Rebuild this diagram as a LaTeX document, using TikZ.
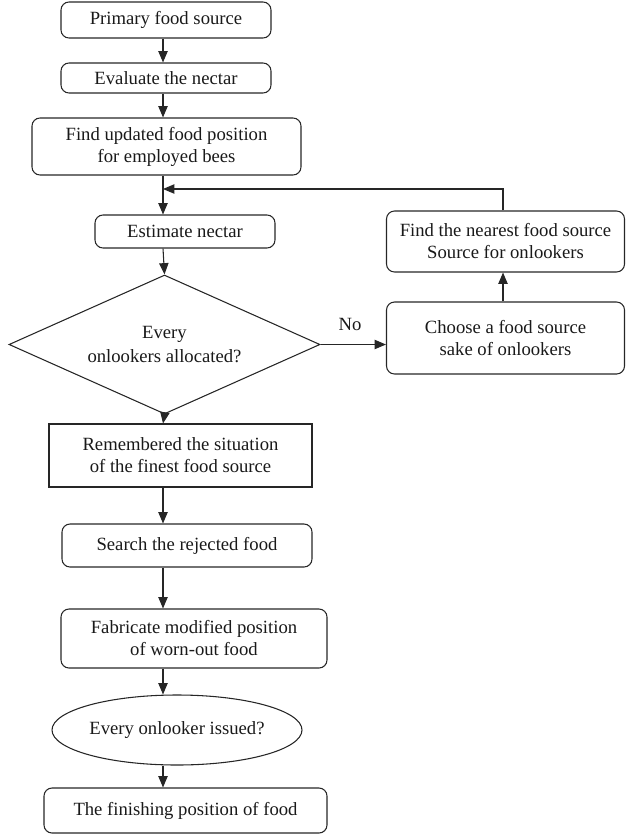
\documentclass[tikz,border=0pt]{standalone}
\usepackage{fontspec}
\setmainfont{Liberation Serif}
\usetikzlibrary{shapes.geometric,arrows.meta}
\begin{document}
\begin{tikzpicture}[x=0.75pt,y=-0.75pt,
  every node/.style={font=\fontsize{14}{16.5}\selectfont, align=center, inner sep=0pt, text=black!90},
  proc/.style={draw=black!85, line width=0.8pt, rectangle, rounded corners=6pt},
  plainbox/.style={draw=black!85, line width=0.8pt, rectangle},
  decision/.style={draw=black!85, line width=0.8pt, diamond, shape aspect=2.2},
  oval/.style={draw=black!85, line width=0.8pt, ellipse},
  flow/.style={draw=black!85, line width=0.8pt, -{Triangle[length=8.5pt,width=7pt]}},
  link/.style={draw=black!85, line width=0.8pt}
]
\useasboundingbox (0,0) rectangle (626,835);

% vertical axis of the main flow and of the side loop
\coordinate (spine) at (163,0);
\coordinate (loopx) at (503,0);
\coordinate (join) at (163,189);

% main column
\node[proc, minimum width=157.5pt, minimum height=27pt] (primary) at (166,20) {Primary food source};
\node[proc, minimum width=157.5pt, minimum height=22.5pt] (evaluate) at (166,78) {Evaluate the nectar};
\node[proc, minimum width=201.75pt, minimum height=42.75pt] (update) at (166.5,146.5) {Find updated food position\\for employed bees};
\node[proc, minimum width=135pt, minimum height=24.75pt] (estimate) at (185,231.5) {Estimate nectar};
\node[decision, minimum width=233.25pt, minimum height=104.25pt] (allocated) at (164.5,344.5) {Every\\[2pt]onlookers allocated?};
\node[plainbox, minimum width=197.25pt, minimum height=47.25pt] (remember) at (180.5,455.5) {Remembered the situation\\of the finest food source};
\node[proc, minimum width=187.5pt, minimum height=32.25pt] (search) at (187,545.5) {Search the rejected food};
\node[proc, minimum width=199.5pt, minimum height=44.25pt] (fabricate) at (194,638.5) {Fabricate modified position\\of worn-out food};
\node[oval, minimum width=187.5pt, minimum height=52.5pt] (issued) at (177,730) {Every onlooker issued?};
\node[proc, minimum width=212.25pt, minimum height=33.75pt] (finish) at (185.5,810.5) {The finishing position of food};

% side loop
\node[proc, minimum width=178.5pt, minimum height=45.75pt] (nearest) at (505.5,241.5) {Find the nearest food source\\Source for onlookers};
\node[proc, minimum width=178.5pt, minimum height=54pt] (choose) at (505.5,338) {Choose a food source\\sake of onlookers};
\node (no) at (350,324) {No};

% connectors of the main column
\draw[flow] (primary.south -| spine) -- (evaluate.north -| spine);
\draw[flow] (evaluate.south -| spine) -- (update.north -| spine);
\draw[flow] (update.south -| spine) -- (estimate.north -| spine);
\draw[flow] (estimate.south -| spine) -- (allocated.north);
\draw[flow] (allocated.south) -- (remember.north -| spine);
\draw[flow] (remember.south -| spine) -- (search.north -| spine);
\draw[flow] (search.south -| spine) -- (fabricate.north -| spine);
\draw[flow] (fabricate.south -| spine) -- (issued.north -| spine);
\draw[flow] (issued.south -| spine) -- (finish.north -| spine);

% connectors of the side loop
\draw[flow] (allocated.east) -- (choose.west |- allocated.east);
\draw[flow] (choose.north -| loopx) -- (nearest.south -| loopx);
\draw[flow] (nearest.north -| loopx) |- (join);
\end{tikzpicture}
\end{document}
